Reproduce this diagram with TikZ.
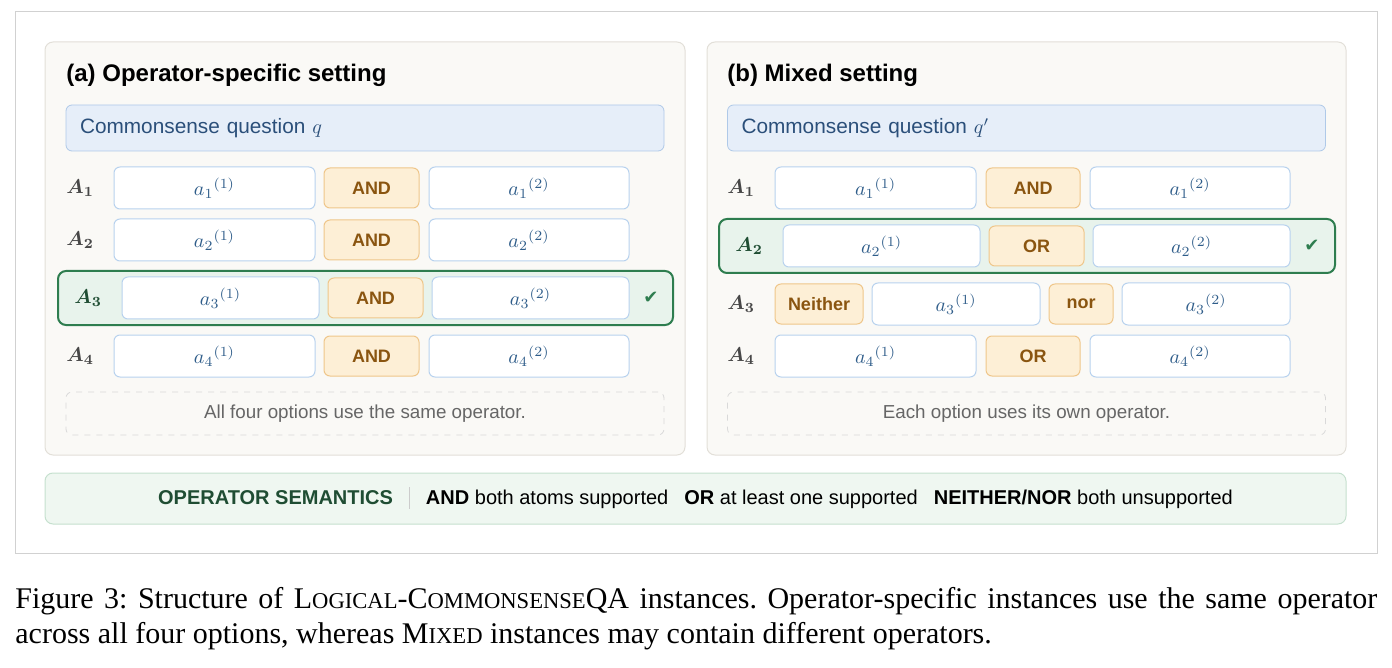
\documentclass[tikz,border=0pt]{standalone}
\usepackage{fontspec}
\usepackage{amsmath,bm}
\setmainfont{Liberation Serif}
\setsansfont{Liberation Sans}
\newfontfamily\symfont{DejaVu Sans}
\usetikzlibrary{positioning}
\definecolor{panelfill}{HTML}{FAF9F6}
\definecolor{paneldraw}{HTML}{E2DFD8}
\definecolor{qfill}{HTML}{E6EEF9}
\definecolor{qdraw}{HTML}{AFC9E8}
\definecolor{qtext}{HTML}{2B4F7A}
\definecolor{atomdraw}{HTML}{B8D2EE}
\definecolor{atomtext}{HTML}{2F5D8A}
\definecolor{opfill}{HTML}{FDEFD6}
\definecolor{opdraw}{HTML}{EFC68A}
\definecolor{optext}{HTML}{8A5510}
\definecolor{hlfill}{HTML}{E8F3EC}
\definecolor{hldraw}{HTML}{2E7D4F}
\definecolor{semfill}{HTML}{EFF7F1}
\definecolor{semdraw}{HTML}{C5E0CE}
\definecolor{semtext}{HTML}{1F4D33}
\newcommand{\fsc}[2]{#1{\fontsize{11.3pt}{12pt}\selectfont #2}}
\tikzset{%
  % boxes
  panel/.style = {draw=paneldraw, fill=panelfill, rounded corners=4pt, line width=0.5pt},
  question/.style = {draw=qdraw, fill=qfill, rounded corners=3pt, minimum width=299pt,
                     minimum height=23pt, text=qtext, font=\sffamily\fontsize{10.4pt}{12pt}\selectfont,
                     inner xsep=7pt, text width=285pt, align=left},
  atom/.style = {draw=atomdraw, fill=white, rounded corners=3pt, minimum height=21pt,
                 text=atomtext, line width=0.5pt},
  op/.style = {draw=opdraw, fill=opfill, rounded corners=3pt, minimum height=20pt,
               text=optext, font=\sffamily\bfseries\fontsize{9pt}{11pt}\selectfont, line width=0.5pt},
  opt/.style = {text=black!72, anchor=west, inner sep=0pt, font=\fontsize{10pt}{12pt}\selectfont},
  hl/.style = {draw=hldraw, fill=hlfill, rounded corners=4pt, line width=1pt},
  check/.style = {text=hldraw, font=\symfont\fontsize{9pt}{12pt}\selectfont},
  note/.style = {draw=black!15, dashed, rounded corners=3pt, minimum width=299pt,
                 minimum height=21.5pt, text=black!60, font=\sffamily\fontsize{9.4pt}{11pt}\selectfont},
  title/.style = {anchor=west, inner sep=0pt, font=\sffamily\bfseries\fontsize{12pt}{14pt}\selectfont}
}
\begin{document}
\begin{tikzpicture}[x=0.5pt, y=-0.5pt]
  \useasboundingbox (0,0) rectangle (1392,668);
  \draw[black!18, line width=0.5pt] (15,12) rectangle (1377,553);

  % (a) operator-specific
  \draw[panel] (45,42) rectangle (685,455);
  \node[title] (ta) at (66,75) {(a) Operator-specific setting};
  \node[question] (qa) at (365,128) {Commonsense question $q$};
  \draw[hl] (58,271) rectangle (673,325);
  \foreach \i/\y in {1/188, 2/240, 4/356} {
    \node[opt] (la\i) at (66,\y) {$\bm{A_{\i}}$};
    \node[atom, minimum width=100.5pt] (xa\i) at (214.5,\y) {$a_{\i}{}^{(1)}$};
    \node[op, minimum width=47.5pt] (oa\i) at (371.5,\y) {AND};
    \node[atom, minimum width=100pt] (ya\i) at (529,\y) {$a_{\i}{}^{(2)}$};
  }
  \node[opt, text=semtext] (la3) at (74,298) {$\bm{A_{3}}$};
  \node[atom, minimum width=98.5pt] (xa3) at (220.5,298) {$a_{3}{}^{(1)}$};
  \node[op, minimum width=47.5pt] (oa3) at (375.5,298) {AND};
  \node[atom, minimum width=98.5pt] (ya3) at (530.5,298) {$a_{3}{}^{(2)}$};
  \node[check] (ca3) at (651,298) {✔};
  \node[note] (na) at (365,413.5) {All four options use the same operator.};

  % (b) mixed
  \draw[panel] (707,42) rectangle (1346,455);
  \node[title] (tb) at (727,75) {(b) Mixed setting};
  \node[question] (qb) at (1026.5,128) {Commonsense question $q'$};
  \draw[hl] (719,219) rectangle (1335,273);
  \node[opt] (lb1) at (727,188) {$\bm{A_{1}}$};
  \node[atom, minimum width=100.5pt] (xb1) at (875.5,188) {$a_{1}{}^{(1)}$};
  \node[op, minimum width=47pt] (ob1) at (1033,188) {AND};
  \node[atom, minimum width=100pt] (yb1) at (1190,188) {$a_{1}{}^{(2)}$};
  \node[opt, text=semtext] (lb2) at (735,246) {$\bm{A_{2}}$};
  \node[atom, minimum width=98.5pt] (xb2) at (881.5,246) {$a_{2}{}^{(1)}$};
  \node[op, minimum width=47.5pt] (ob2) at (1036.5,246) {OR};
  \node[atom, minimum width=98.5pt] (yb2) at (1191.5,246) {$a_{2}{}^{(2)}$};
  \node[check] (cb2) at (1312,246) {✔};
  \node[opt] (lb3) at (727,304) {$\bm{A_{3}}$};
  \node[op, minimum width=44pt] (nb3) at (819,304) {Neither};
  \node[atom, minimum width=84pt] (xb3) at (956,304) {$a_{3}{}^{(1)}$};
  \node[op, minimum width=32pt] (ob3) at (1081,304) {nor};
  \node[atom, minimum width=84pt] (yb3) at (1206,304) {$a_{3}{}^{(2)}$};
  \node[opt] (lb4) at (727,356) {$\bm{A_{4}}$};
  \node[atom, minimum width=100.5pt] (xb4) at (875.5,356) {$a_{4}{}^{(1)}$};
  \node[op, minimum width=47pt] (ob4) at (1033,356) {OR};
  \node[atom, minimum width=100pt] (yb4) at (1190,356) {$a_{4}{}^{(2)}$};
  \node[note] (nb) at (1026.5,413.5) {Each option uses its own operator.};

  % semantics bar
  \draw[fill=semfill, draw=semdraw, rounded corners=4pt, line width=0.5pt] (45,473) rectangle (1346,524);
  \node[font=\sffamily\fontsize{10pt}{11pt}\selectfont, inner sep=0pt] (sem) at (695.5,498)
    {\textcolor{semtext}{\textbf{OPERATOR SEMANTICS}}\hspace{8pt}\textcolor{black!20}{\rule[-2pt]{0.5pt}{11pt}}\hspace{8pt}%
     \textbf{AND} both atoms supported\hspace{8pt}\textbf{OR} at least one supported\hspace{8pt}\textbf{NEITHER/NOR} both unsupported};

  % caption
  \node[anchor=north west, inner sep=0pt, text width=681pt, align=justify,
        font=\fontsize{15pt}{17.5pt}\selectfont\frenchspacing] (cap) at (15,587)
    {Figure 3: Structure of \fsc{L}{OGICAL}-\fsc{C}{OMMONSENSE}QA instances. Operator-specific instances use the same operator\linebreak across all four options, whereas \fsc{M}{IXED} instances may contain different operators.};
\end{tikzpicture}
\end{document}
